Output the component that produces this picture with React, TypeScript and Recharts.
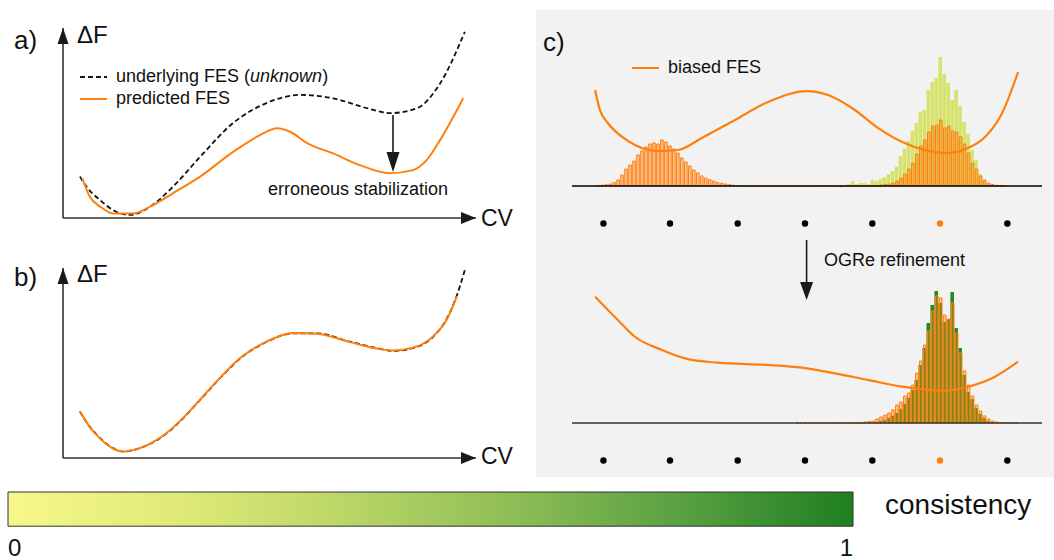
import React from 'react';
import {
  BarChart, Bar, ComposedChart, LineChart, Line, Scatter, Cell,
  XAxis, YAxis, ReferenceLine, ReferenceDot, Legend,
} from 'recharts';

const FONT = "'Liberation Sans', Arial, Helvetica, sans-serif";
const INK = '#111';
const ORANGE = '#ff7f0e';
const ORANGE_FILL = 'rgba(255, 127, 14, 0.4)';
const LOW_CONSISTENCY = '#d5e36c';
const HIGH_CONSISTENCY = '#228b22';

// a) underlying FES vs. predicted FES (CV 0-100, dF 0-50)
const trueCvA = [4.1, 5.7, 9.0, 12.1, 16.2, 21.1, 26.6, 33.2, 41.2, 49.4, 57.4, 65.4, 73.6, 79.2, 85.7, 91.3, 97.3];
const trueFA = [10.9, 8.2, 4.7, 2.1, 0.8, 3.0, 8.2, 16.1, 25, 30.3, 32.4, 31.5, 28.9, 27.6, 28.9, 35.4, 49];
const predCvA = [4.7, 6.5, 9.0, 12.1, 16.9, 21.1, 26.6, 33.2, 41.2, 47.7, 51.8, 55.0, 59.1, 65.4, 71.9, 79.2, 84.7, 88.1, 91.3, 96.9];
const predFA = [10.4, 5.6, 3.0, 1.2, 1.2, 3.0, 6.5, 10.9, 17.4, 21.8, 23.6, 22.7, 19.7, 17.0, 13.9, 11.8, 12.6, 15.3, 20.5, 31.5];

// b) after refinement both curves overlap
const trueCvB = [4.1, 6.5, 9.0, 12.1, 14.5, 18.6, 23.5, 28.3, 33.2, 38.0, 42.9, 49.4, 55.7, 61.5, 69.5, 76.0, 79.9, 84.7, 89.6, 93.0, 95.4, 97.3];
const trueFB = [12.2, 8.2, 5.2, 2.6, 1.7, 2.6, 5.2, 9.6, 15.3, 21.0, 26.2, 30.6, 32.8, 32.8, 30.6, 28.9, 28.2, 28.9, 31.9, 36.8, 42.9, 49.5];
const predCvB = [4.1, 6.5, 9.0, 12.1, 14.5, 18.6, 23.5, 28.3, 33.2, 38.0, 42.9, 49.4, 55.7, 61.5, 69.5, 76.0, 79.9, 84.7, 89.6, 93.0, 95.4];
const predFB = [12.3, 8.1, 5.1, 2.5, 1.7, 2.6, 5.3, 9.7, 15.4, 21.1, 26.3, 30.7, 32.9, 32.7, 30.5, 28.8, 28.3, 29.0, 32.0, 36.6, 42.6];

// arrow marking the erroneous minimum in a)
const errorCv = 79.9;
const errorFrom = 27.1;
const errorTo = 12.1;

// c) histograms per CV bin (bins 0..117), counts in arbitrary units
const binCount = 118;
const topLeftStart = 6;
const topLeftOrange = [0.2, 0.5, 0.8, 1.3, 2.3, 4, 7.3, 11.3, 14, 16.7, 20.7, 23.3, 26, 28, 28.7, 28, 30.7, 29.3, 26.7, 24.7, 22, 18.7, 16, 13.3, 10.7, 8.7, 6.7, 5.3, 4.3, 3.3, 2.3, 1.8, 1.3, 0.9, 0.5, 0.3];
const topRightStart = 42;
const topRightOrange = [
  0.1, 0.1, 0.1, 0.1, 0.1, 0.1, 0.1, 0.1, 0.1, 0.1, 0.1, 0.1, 0.1, 0.1, 0.1, 0.1, 0.1, 0.1,
  0.1, 0.1, 0.1, 0.1, 0.1, 0.1, 0.1, 0.1, 0.1, 0.1, 0.1, 0.1, 0.1, 0.1, 0.1, 0.1, 0.1,
  0.7, 1, 1.3, 2, 3.3, 5.3, 8, 11.3, 15.3, 21.3, 26.7, 30.7, 36, 40, 40.7, 44, 38.7, 40, 36.7, 36,
  32.7, 28, 22, 15.3, 11.3, 6.7, 4, 2, 1, 0.5, 0.3, 0.2,
];
const topYellowStart = 69;
const topYellow = [1.3, 3.3, 1.3, 2, 2, 1.3, 4, 3.3, 4.7, 6, 8, 10, 12.7, 20, 24.7, 30, 36.7, 42, 49.3, 50.7, 64, 69.3, 72, 86, 74.7, 68.7, 57.3, 64, 53.3, 42.7, 34.7, 24, 17.3, 8, 4, 1.3];

const bottomGreenStart = 76;
const bottomGreen = [0.7, 1.3, 2, 3.3, 4.7, 6.7, 9.3, 12.7, 16.7, 22, 28.7, 38.7, 50, 66.7, 78.7, 88, 80, 67.3, 69.3, 87.3, 63.3, 50, 32, 20.7, 16, 10, 6, 3.3, 1.3, 0.7];
const bottomOrangeStart = 56;
const bottomOrange = [
  0.1, 0.1, 0.1, 0.1, 0.1, 0.1, 0.1, 0.1, 0.1, 0.1, 0.1, 0.1, 0.1, 0.1, 0.1, 0.1, 0.1,
  0.7, 1, 1.3, 2.7, 4, 5.3, 6.7, 8.7, 12, 14, 18, 20, 25.3, 33.3, 41.3, 52, 61.3, 74.7, 84.7, 83.3,
  72, 69.3, 80, 60, 46.7, 34.7, 25.3, 18, 12, 8, 4.7, 2.7, 1.3, 0.7, 0.3, 0.2, 0.2, 0.2, 0.2,
];

// biased FES before and after OGRe refinement
const biasedCv = [5.8, 7.0, 9.0, 12.6, 15.8, 21.6, 26.6, 32.6, 40.9, 49.2, 59.0, 64.3, 70.3, 76.8, 82.9, 88.6, 94.2, 99.4, 103.7, 108.0, 112.0];
const biasedF = [64, 50.7, 42, 32.7, 27.3, 23.3, 24, 32, 44, 56, 63.3, 60.7, 52, 38.7, 29.3, 24, 22, 25.3, 32.7, 48.7, 76];
const refinedCv = [5.8, 11.5, 15.8, 22.6, 28.4, 36.6, 49.2, 57.7, 66.0, 74.3, 82.9, 92.9, 99.4, 106.2, 112.0];
const refinedF = [84.2, 68.7, 57.5, 48.7, 43.1, 40.2, 38.7, 36.9, 33.1, 28.7, 24.2, 21.5, 24.2, 30.9, 40.9];

// umbrella windows (CV grid), the active one drawn in orange
const gridCv = [7.9, 24.6, 41.6, 58.5, 75.4, 92.4, 109.3];
const gridLevel = -25;
const activeWindow = 5;

// refinement arrow between the two c) plots
const refineCv = 58.9;
const refineFrom = 122;
const refineTo = 82;

const legendOrder = ['underlying FES', 'predicted FES', 'biased FES'];

const toPoints = (xs: number[], ys: number[]) => xs.map((cv, i) => ({ cv, f: ys[i] }));
const at = (arr: number[], start: number, i: number) =>
  i >= start && i < start + arr.length ? arr[i - start] : null;

const topBins = Array.from({ length: binCount }, (_, i) => ({
  cv: i + 0.5,
  orange: at(topLeftOrange, topLeftStart, i) ?? at(topRightOrange, topRightStart, i),
  consistency: at(topYellow, topYellowStart, i),
}));
const bottomBins = Array.from({ length: binCount }, (_, i) => ({
  cv: i + 0.5,
  orange: at(bottomOrange, bottomOrangeStart, i),
  consistency: at(bottomGreen, bottomGreenStart, i),
}));
const gridPoints = gridCv.map((cv) => ({ cv, f: gridLevel }));

type HeadProps = { cx?: number; cy?: number; dir: 'up' | 'down' | 'right'; len?: number; half?: number };
const ArrowHead = ({ cx = 0, cy = 0, dir, len = 16, half = 6 }: HeadProps) => {
  let pts = '';
  if (dir === 'right') pts = `${cx},${cy} ${cx - len},${cy - half} ${cx - len},${cy + half}`;
  if (dir === 'up') pts = `${cx},${cy} ${cx - half},${cy + len} ${cx + half},${cy + len}`;
  if (dir === 'down') pts = `${cx},${cy} ${cx - half},${cy - len} ${cx + half},${cy - len}`;
  return <polygon points={pts} fill="#1a1a1a" />;
};

const legendLabel = (value: string) =>
  value === 'underlying FES' ? <>underlying FES (<i>unknown</i>)</> : value;

const LineLegend = (props: any) => {
  const { payload = [] } = props;
  const items = payload
    .filter((e: any) => legendOrder.includes(e.value))
    .sort((a: any, b: any) => legendOrder.indexOf(a.value) - legendOrder.indexOf(b.value));
  return (
    <div style={{ fontFamily: FONT, fontSize: 18, color: INK }}>
      {items.map((entry: any) => (
        <div key={entry.value} style={{ position: 'relative', height: 22, lineHeight: '22px', paddingLeft: 36, whiteSpace: 'nowrap' }}>
          <svg width={27} height={4} style={{ position: 'absolute', left: 0, top: 10 }}>
            <line x1={0} y1={2} x2={27} y2={2} stroke={entry.color} strokeWidth={2}
              strokeDasharray={entry.payload?.strokeDasharray} />
          </svg>
          {legendLabel(entry.value)}
        </div>
      ))}
    </div>
  );
};

const Txt = ({ left, top, size, children }: { left: number; top: number; size: number; children: React.ReactNode }) => (
  <div style={{ position: 'absolute', left, top, fontSize: size, lineHeight: 1, whiteSpace: 'nowrap', color: INK }}>
    {children}
  </div>
);

const FesPanel = ({ top, truth, pred, withLegend, withArrow }: any) => (
  <div style={{ position: 'absolute', left: 43, top }}>
    <LineChart width={453} height={230} margin={{ top: 20, right: 20, bottom: 20, left: 20 }}>
      <XAxis type="number" dataKey="cv" domain={[0, 100]} hide />
      <YAxis type="number" domain={[0, 50]} hide />
      <ReferenceLine x={0} stroke="#333" strokeWidth={1.6} />
      <ReferenceLine y={0} stroke="#333" strokeWidth={1.6} />
      <ReferenceDot x={100} y={0} shape={(p: any) => <ArrowHead cx={p.cx} cy={p.cy} dir="right" len={15} half={6} />} />
      <ReferenceDot x={0} y={50} shape={(p: any) => <ArrowHead cx={p.cx} cy={p.cy} dir="up" len={16} half={5.5} />} />
      <Line data={truth} dataKey="f" name="underlying FES" type="monotone" stroke={INK} strokeWidth={1.8}
        strokeDasharray="5 3" dot={false} isAnimationActive={false} />
      <Line data={pred} dataKey="f" name="predicted FES" type="monotone" stroke={ORANGE} strokeWidth={2}
        dot={false} isAnimationActive={false} />
      {withArrow && (
        <ReferenceLine segment={[{ x: errorCv, y: errorFrom }, { x: errorCv, y: errorTo + 5 }]} stroke="#1a1a1a" strokeWidth={1.6} />
      )}
      {withArrow && (
        <ReferenceDot x={errorCv} y={errorTo} shape={(p: any) => <ArrowHead cx={p.cx} cy={p.cy} dir="down" len={20} half={6.5} />} />
      )}
      {withLegend && (
        <Legend layout="vertical" align="center" verticalAlign="middle" content={<LineLegend />}
          wrapperStyle={{ position: 'absolute', left: 37, top: 57, width: 'auto' }} />
      )}
    </LineChart>
  </div>
);

// bars of each histogram get their own x axis so that they overlay instead of sitting side by side;
// the curve, the window dots and the annotations use a third one
const SamplingPanel = ({ top, marginTop, bins, fes, name, consistencyColor, withLegend, withArrow }: any) => (
  <div style={{ position: 'absolute', left: 552, top }}>
    <ComposedChart width={510} height={marginTop + 201 + 20} data={bins}
      margin={{ top: marginTop, right: 20, bottom: 20, left: 20 }}>
      <XAxis xAxisId="under" type="number" dataKey="cv" domain={[0, binCount]} hide />
      <XAxis xAxisId="over" type="number" dataKey="cv" domain={[0, binCount]} hide />
      <XAxis xAxisId="fes" type="number" dataKey="cv" domain={[0, binCount]} hide />
      <YAxis type="number" domain={[-34, 100]} hide />
      <Bar xAxisId="under" dataKey="consistency" fill={consistencyColor} barSize={4}
        isAnimationActive={false} legendType="none" />
      <Bar xAxisId="over" dataKey="orange" fill={ORANGE_FILL} stroke={ORANGE} strokeWidth={1} barSize={2.6}
        isAnimationActive={false} legendType="none" />
      <ReferenceLine xAxisId="fes" y={0} stroke={withLegend ? '#000' : '#333'} strokeWidth={1.5} />
      <Line xAxisId="fes" data={fes} dataKey="f" name={name} type="monotone" stroke={ORANGE} strokeWidth={2.2}
        dot={false} isAnimationActive={false} />
      <Scatter xAxisId="fes" data={gridPoints} dataKey="f" legendType="none" isAnimationActive={false}
        shape={(p: any) => <circle cx={p.cx} cy={p.cy} r={3.2} fill={p.fill} />}>
        {gridPoints.map((_, i) => (
          <Cell key={i} fill={i === activeWindow ? ORANGE : '#000'} />
        ))}
      </Scatter>
      {withArrow && (
        <ReferenceLine xAxisId="fes" ifOverflow="visible"
          segment={[{ x: refineCv, y: refineFrom }, { x: refineCv, y: refineTo + 10 }]}
          stroke="#1a1a1a" strokeWidth={1.6} />
      )}
      {withArrow && (
        <ReferenceDot xAxisId="fes" x={refineCv} y={refineTo}
          shape={(p: any) => <ArrowHead cx={p.cx} cy={p.cy} dir="down" len={18} half={6.5} />} />
      )}
      {withLegend && (
        <Legend layout="vertical" align="center" verticalAlign="middle" content={<LineLegend />}
          wrapperStyle={{ position: 'absolute', left: 80, top: 40, width: 'auto' }} />
      )}
    </ComposedChart>
  </div>
);

const colorbarData = [{ name: 'consistency', value: 1 }];
const colorbarTicks = [0, 1];

const ColorbarTick = (props: any) => {
  const { x, y, payload } = props;
  return (
    <text x={x} y={y + 3} dy="0.71em" textAnchor={payload.value === 0 ? 'start' : 'end'}
      fontSize={24} fill={INK} fontFamily={FONT}>
      {payload.value}
    </text>
  );
};

export default function App() {
  return (
    <div style={{ position: 'absolute', left: 0, top: 0, width: 1054, height: 560, background: '#fff', fontFamily: FONT, overflow: 'hidden' }}>
      <div style={{ position: 'absolute', left: 536, top: 10, width: 518, height: 467, background: '#f2f2f2' }} />

      <FesPanel top={8} truth={toPoints(trueCvA, trueFA)} pred={toPoints(predCvA, predFA)} withLegend withArrow />
      <FesPanel top={248} truth={toPoints(trueCvB, trueFB)} pred={toPoints(predCvB, predFB)} />

      <SamplingPanel top={16} marginTop={20} bins={topBins} fes={toPoints(biasedCv, biasedF)} name="biased FES"
        consistencyColor={LOW_CONSISTENCY} withLegend />
      <SamplingPanel top={233} marginTop={40} bins={bottomBins} fes={toPoints(refinedCv, refinedF)} name="refined FES"
        consistencyColor={HIGH_CONSISTENCY} withArrow />

      <div style={{ position: 'absolute', left: 6, top: 488 }}>
        <BarChart layout="vertical" width={849} height={72} data={colorbarData}
          margin={{ top: 2, right: 2, bottom: 2, left: 2 }}>
          <defs>
            <linearGradient id="consistencyGrad" x1="0" y1="0" x2="1" y2="0">
              <stop offset="0" stopColor="#f7f78c" />
              <stop offset="0.2" stopColor="#e0ea78" />
              <stop offset="0.4" stopColor="#bad667" />
              <stop offset="0.6" stopColor="#8dbd55" />
              <stop offset="0.8" stopColor="#58a042" />
              <stop offset="1" stopColor="#1f7f20" />
            </linearGradient>
          </defs>
          <XAxis type="number" domain={[0, 1]} ticks={colorbarTicks} interval={0} axisLine={false} tickLine={false}
            height={30} tick={<ColorbarTick />} />
          <YAxis type="category" dataKey="name" hide />
          <Bar dataKey="value" fill="url(#consistencyGrad)" stroke="#333" strokeWidth={1} barSize={38}
            isAnimationActive={false} />
        </BarChart>
      </div>

      <Txt left={14} top={27} size={26}>a)</Txt>
      <Txt left={77} top={23} size={24}>ΔF</Txt>
      <Txt left={481} top={207} size={23}>CV</Txt>
      <Txt left={268} top={180} size={18}>erroneous stabilization</Txt>

      <Txt left={14} top={264} size={26}>b)</Txt>
      <Txt left={77} top={262} size={24}>ΔF</Txt>
      <Txt left={481} top={445} size={23}>CV</Txt>

      <Txt left={543} top={29} size={26}>c)</Txt>
      <Txt left={824} top={251} size={18}>OGRe refinement</Txt>

      <Txt left={885} top={491} size={28}>consistency</Txt>
    </div>
  );
}
